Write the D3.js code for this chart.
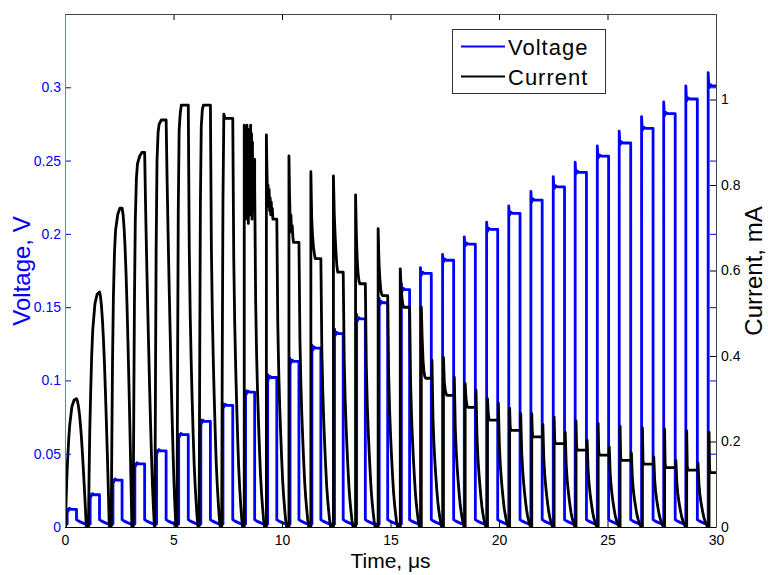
<!DOCTYPE html>
<html><head><meta charset="utf-8">
<script src="https://cdn.jsdelivr.net/npm/d3@7/dist/d3.min.js"></script>
<style>body{margin:0;background:#fff}svg{display:block}</style>
</head><body>
<svg id="c" width="768" height="575"></svg>
<script>
// ---------- data ----------
const timeTicks = [0, 5, 10, 15, 20, 25, 30];
const voltTicks = [0, 0.05, 0.1, 0.15, 0.2, 0.25, 0.3];
const currTicks = [0, 0.2, 0.4, 0.6, 0.8, 1];
const seriesNames = ["Voltage", "Current"];

// voltage pulse start times (µs) and widths (µs)
const pulseStart = [0.10, 1.16, 2.21, 3.22, 4.22, 5.24, 6.26, 7.28, 8.32, 9.34,
  10.37, 11.38, 12.42, 13.44, 14.48, 15.50, 16.38, 17.40, 18.40, 19.43,
  20.45, 21.47, 22.50, 23.51, 24.53, 25.54, 26.57, 27.59, 28.61, 29.64];
const pulseWidth = [0.43, 0.43, 0.42, 0.45, 0.44, 0.44, 0.44, 0.45, 0.42, 0.42,
  0.41, 0.41, 0.40, 0.40, 0.39, 0.38, 0.50, 0.51, 0.51, 0.51,
  0.52, 0.52, 0.52, 0.52, 0.52, 0.53, 0.53, 0.53, 0.53, 0.53];
// voltage plateau level (V) and leading-edge overshoot (V)
const voltLevel = [0.012, 0.022, 0.032, 0.043, 0.052, 0.063, 0.072, 0.083, 0.092, 0.102,
  0.113, 0.122, 0.132, 0.142, 0.153, 0.162, 0.173, 0.182, 0.193, 0.203,
  0.214, 0.223, 0.232, 0.242, 0.253, 0.262, 0.272, 0.282, 0.292, 0.301];
const voltOvershoot = [0, 0, 0, 0, 0, 0, 0.001, 0.001, 0.001, 0.002,
  0.002, 0.002, 0.003, 0.003, 0.003, 0.004, 0.004, 0.004, 0.005, 0.005,
  0.005, 0.006, 0.007, 0.007, 0.007, 0.008, 0.008, 0.008, 0.009, 0.009];
const voltBase = 0.002;
// voltage after switch-off: [time after end (µs), level (V)]
const voltOff = [[0, 0.005], [0.1, 0.004], [0.25, 0.003], [0.4, 0.002]];

// current: first 8 pulses rise smoothly to a peak (mA)
const curPeakA = [0.30, 0.55, 0.746, 0.876, 0.952, 0.987, 0.987, 0.956];
const riseT = [0, 0.03, 0.06, 0.1, 0.15, 0.2, 0.3, 0.4];
const riseFracA = [
  [0, 0.20, 0.36, 0.52, 0.68, 0.80, 0.94, 0.99],
  [0, 0.22, 0.40, 0.56, 0.73, 0.84, 0.95, 0.99],
  [0, 0.28, 0.52, 0.72, 0.86, 0.93, 0.98, 1.0],
  [0, 0.32, 0.60, 0.82, 0.93, 0.97, 0.99, 1.0],
  [0, 0.36, 0.68, 0.90, 0.97, 0.99, 1.0, 1.0],
  [0, 0.40, 0.75, 0.94, 0.98, 1.0, 1.0, 1.0],
  [0, 0.42, 0.77, 0.95, 0.99, 1.0, 1.0, 1.0],
  [0, 0.45, 0.80, 1.01, 1.0, 1.0, 1.0, 1.0]
];
// current: later pulses (k = 8..29) spike then settle (mA), sampled every step (µs)
const curProfile = [
  [0.94, 0.74, 0.93, 0.72, 0.92, 0.76, 0.94, 0.73, 0.85, 0.71, 0.93, 0.75, 0.91, 0.73, 0.94, 0.74, 0.92, 0.72, 0.90, 0.74, 0.86],
  [0.917, 0.84, 0.78, 0.80, 0.75, 0.79, 0.74, 0.77, 0.73, 0.76, 0.73, 0.745, 0.72],
  [0.868, 0.77, 0.71, 0.73, 0.69, 0.705, 0.68, 0.666],
  [0.831, 0.72, 0.68, 0.655, 0.64, 0.628],
  [0.821, 0.73, 0.68, 0.64, 0.61, 0.596],
  [0.777, 0.68, 0.62, 0.59, 0.575, 0.569],
  [0.698, 0.62, 0.58, 0.555, 0.545, 0.541],
  [0.604, 0.56, 0.535, 0.52, 0.514],
  [0.514, 0.44, 0.39, 0.365, 0.352, 0.348],
  [0.397, 0.34, 0.32, 0.312, 0.308],
  [0.336, 0.30, 0.285, 0.28],
  [0.30, 0.265, 0.252, 0.25],
  [0.278, 0.235, 0.226],
  [0.265, 0.22, 0.211],
  [0.257, 0.205, 0.195],
  [0.248, 0.19, 0.18],
  [0.242, 0.178, 0.168],
  [0.236, 0.166, 0.156],
  [0.232, 0.157, 0.147],
  [0.229, 0.149, 0.139],
  [0.225, 0.142, 0.133],
  [0.222, 0.136, 0.127]
];
const curProfileStep = [0.021, 0.025, 0.03, 0.04, 0.04, 0.04, 0.04, 0.04, 0.04, 0.04, 0.04,
  0.035, 0.025, 0.025, 0.025, 0.025, 0.025, 0.025, 0.025, 0.025, 0.025, 0.025];
// current level right at switch-off (k = 8..29), mA
const curOffLevel = [0.80, 0.72, 0.666, 0.628, 0.596, 0.569, 0.541, 0.514, 0.39, 0.35, 0.32,
  0.29, 0.265, 0.24, 0.222, 0.203, 0.187, 0.173, 0.164, 0.156, 0.150, 0.145];
// timing of current relative to voltage (µs)
const curStartShift = [-0.08, -0.08, -0.08, -0.08, -0.08, -0.08, -0.08, -0.06, -0.06, -0.06,
  -0.05, -0.05, -0.05, -0.05, -0.05, -0.05, 0.04, 0.04, 0.04, 0.04,
  0.04, 0.04, 0.04, 0.04, 0.04, 0.04, 0.04, 0.04, 0.04, 0.04];
const curEndShift = [0, 0, 0, 0, 0, 0, 0, 0, 0, 0, 0, 0, 0, 0, 0, 0,
  0.03, 0.03, 0.03, 0.03, 0.03, 0.03, 0.03, 0.03, 0.03, 0.03, 0.03, 0.03, 0.03, 0.03];
// decay after switch-off: fractions of the switch-off level at fractions of the decay time
const decayDur = 0.45;
const decayU = [0, 0.1, 0.2, 0.3, 0.4, 0.5, 0.6, 0.7, 0.8, 0.9, 1];
const decayShapes = [
  [1, 0.98, 0.94, 0.88, 0.80, 0.70, 0.58, 0.45, 0.31, 0.16, 0],
  [1, 0.85, 0.72, 0.60, 0.49, 0.38, 0.28, 0.19, 0.11, 0.05, 0],
  [1, 0.66, 0.50, 0.39, 0.30, 0.22, 0.15, 0.10, 0.06, 0.025, 0]
];
const decayType = [0, 0, 0, 1, 1, 2, 2, 2, 2, 2, 2, 2, 2, 2, 2, 2, 2, 2, 2, 2, 2, 2, 2, 2, 2, 2, 2, 2, 2, 2];

// ---------- build the traces from the readings ----------
const voltPts = [[0, voltBase]];
pulseStart.forEach((t0, k) => {
  const t1 = t0 + pulseWidth[k], V = voltLevel[k], ov = voltOvershoot[k];
  voltPts.push([t0, voltBase], [t0, V + ov], [t0 + 0.03, V - 0.0015], [t0 + 0.1, V + 0.0008], [t0 + 0.18, V], [t1, V]);
  voltOff.forEach(([dt, v]) => voltPts.push([t1 + dt, v]));
});

const curPts = [[0, 0]];
pulseStart.forEach((t0, k) => {
  const s = t0 + curStartShift[k];
  const t1 = t0 + pulseWidth[k] + curEndShift[k];
  let offLevel;
  curPts.push([s, 0]);
  if (k < curPeakA.length) {
    const P = curPeakA[k];
    riseT.forEach((dt, j) => { if (s + dt < t1) curPts.push([s + dt, P * riseFracA[k][j]]); });
    curPts.push([t1, P]);
    offLevel = P;
  } else {
    const prof = curProfile[k - 8], step = curProfileStep[k - 8];
    prof.forEach((v, j) => { if (s + j * step < t1) curPts.push([s + j * step, v]); });
    curPts.push([t1, prof[prof.length - 1]]);
    offLevel = curOffLevel[k - 8];
    curPts.push([t1, offLevel]);
  }
  const shape = decayShapes[decayType[k]];
  decayU.forEach((u, j) => curPts.push([t1 + 0.001 + u * decayDur, offLevel * shape[j]]));
});

// ---------- chart ----------
const svg = d3.select("#c");
const L = 65, R = 716, T = 14, B = 527;
const font = "'Liberation Sans', Arial, Helvetica, sans-serif";
const x = d3.scaleLinear([0, 30], [L, R]);
const yV = d3.scaleLinear([0, 0.35], [B, T]);
const yI = d3.scaleLinear([0, 1.2], [B, T]);
const fmt = d => d === 0 ? "0" : String(+d.toFixed(2));

svg.append("rect").attr("width", 768).attr("height", 575).attr("fill", "#fff");
svg.append("defs").append("clipPath").attr("id", "clip")
  .append("rect").attr("x", L).attr("y", T).attr("width", R - L).attr("height", B - T);

const plot = svg.append("g").attr("clip-path", "url(#clip)");
plot.append("path").datum(voltPts)
  .attr("d", d3.line().x(d => x(d[0])).y(d => yV(d[1])))
  .attr("fill", "none").attr("stroke", "#0000ff").attr("stroke-width", 2.8).attr("stroke-linejoin", "round");
plot.append("path").datum(curPts)
  .attr("d", d3.line().x(d => x(d[0])).y(d => yI(d[1])))
  .attr("fill", "none").attr("stroke", "#000").attr("stroke-width", 2.8).attr("stroke-linejoin", "round");

function styleAxis(g, color, size) {
  g.select(".domain").remove();
  g.selectAll(".tick line").attr("stroke", color);
  g.selectAll(".tick text").attr("fill", color).attr("font-size", size).attr("font-family", font);
  g.attr("font-family", font);
}
// left voltage axis
svg.append("g").attr("transform", `translate(${L},0)`)
  .call(d3.axisLeft(yV).tickValues(voltTicks).tickFormat(fmt).tickSizeInner(-6).tickSizeOuter(0).tickPadding(4))
  .call(g => styleAxis(g, "#0000ff", 14));
// voltage ticks mirrored on the right
svg.append("g").attr("transform", `translate(${R},0)`)
  .call(d3.axisRight(yV).tickValues(voltTicks).tickFormat("").tickSizeInner(-6).tickSizeOuter(0))
  .call(g => styleAxis(g, "#0000ff", 14));
// right current axis
svg.append("g").attr("transform", `translate(${R},0)`)
  .call(d3.axisRight(yI).tickValues(currTicks).tickFormat(fmt).tickSizeInner(-6).tickSizeOuter(0).tickPadding(5))
  .call(g => styleAxis(g, "#000", 14));
// bottom and top time axes
svg.append("g").attr("transform", `translate(0,${B})`)
  .call(d3.axisBottom(x).tickValues(timeTicks).tickFormat(d3.format("d")).tickSizeInner(-6).tickSizeOuter(0).tickPadding(8))
  .call(g => styleAxis(g, "#000", 14));
svg.append("g").attr("transform", `translate(0,${T})`)
  .call(d3.axisTop(x).tickValues(timeTicks).tickFormat("").tickSizeInner(-6).tickSizeOuter(0))
  .call(g => styleAxis(g, "#000", 14));

// spines
svg.append("line").attr("x1", L + 0.5).attr("x2", L + 0.5).attr("y1", T).attr("y2", B + 0.5).attr("stroke", "#6f6fff");
svg.append("line").attr("x1", L).attr("x2", R + 0.5).attr("y1", B + 0.5).attr("y2", B + 0.5).attr("stroke", "#000");
svg.append("line").attr("x1", L).attr("x2", R + 0.5).attr("y1", T + 0.5).attr("y2", T + 0.5).attr("stroke", "#444");
svg.append("line").attr("x1", R + 0.5).attr("x2", R + 0.5).attr("y1", T).attr("y2", B + 0.5).attr("stroke", "#444");

// axis titles
svg.append("text").attr("transform", "translate(30,271) rotate(-90)").attr("text-anchor", "middle")
  .attr("font-family", font).attr("font-size", 24).attr("fill", "#0000ff").text("Voltage, V");
svg.append("text").attr("transform", "translate(762,271) rotate(-90)").attr("text-anchor", "middle")
  .attr("font-family", font).attr("font-size", 24).attr("fill", "#000").text("Current, mA");
svg.append("text").attr("x", (L + R) / 2).attr("y", 568).attr("text-anchor", "middle")
  .attr("font-family", font).attr("font-size", 21).attr("fill", "#000").text("Time, μs");

// legend
const lg = svg.append("g");
lg.append("rect").attr("x", 452.5).attr("y", 29.5).attr("width", 153).attr("height", 64)
  .attr("fill", "#fff").attr("stroke", "#333");
const lgColors = ["#0000ff", "#000"];
seriesNames.forEach((name, i) => {
  const yy = 46.5 + i * 30;
  lg.append("line").attr("x1", 461).attr("x2", 505).attr("y1", yy).attr("y2", yy)
    .attr("stroke", lgColors[i]).attr("stroke-width", 2);
  lg.append("text").attr("x", 508).attr("y", yy + 8).attr("font-family", font).attr("font-size", 22)
    .attr("letter-spacing", 1).attr("fill", "#000").text(name);
});
</script>
</body></html>
